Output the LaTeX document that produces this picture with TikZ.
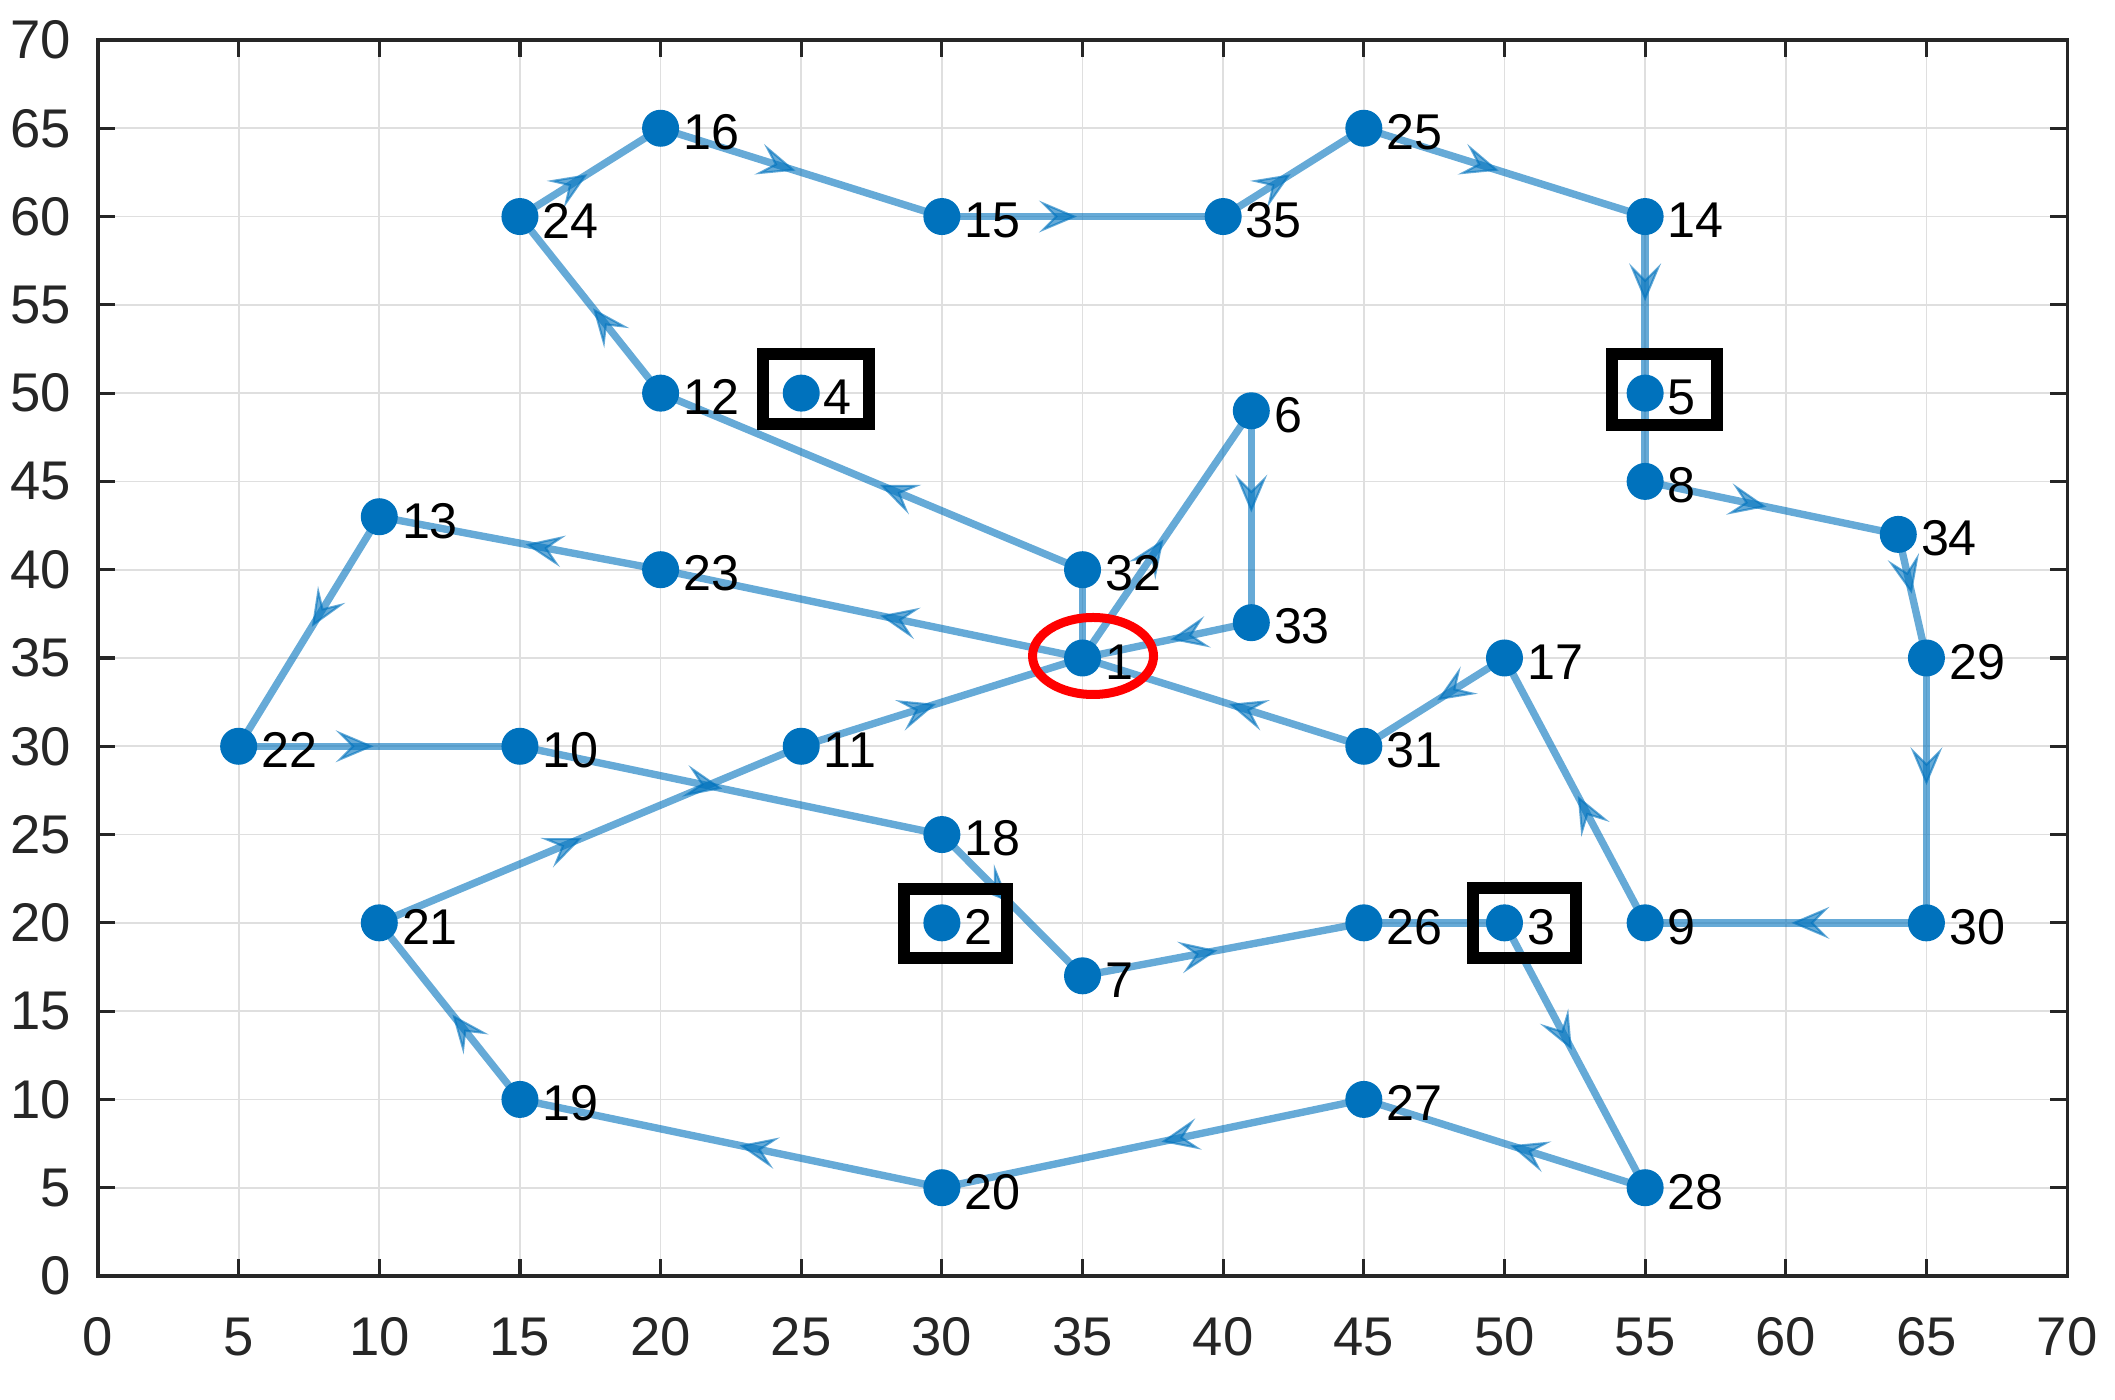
\documentclass[tikz,border=0pt]{standalone}
\usepackage{fontspec}
\setmainfont{Liberation Sans}
\usetikzlibrary{arrows.meta,decorations.markings}
\definecolor{mblue}{RGB}{0,114,189}
\definecolor{axgray}{RGB}{38,38,38}
\definecolor{gridgray}{RGB}{223,223,223}
\pgfdeclarelayer{background}
\pgfsetlayers{background,main}
\tikzset{
  gridline/.style={draw=gridgray, line width=0.5pt},
  axisline/.style={draw=axgray, line width=0.9pt},
  route/.style={draw=mblue, opacity=0.6, line width=2.1pt},
  arrowmid/.style={postaction={decorate}, decoration={markings,
      mark=at position 0.48 with {\arrow{Stealth[length=0.38cm,width=0.32cm,inset=0.16cm,line width=0.6pt]}}}},
  dot/.style={circle, fill=mblue, draw=none, inner sep=0pt, minimum size=0.37cm},
  lbl/.style={anchor=west, inner sep=0pt, text=black, font=\fontsize{14.3}{16}\selectfont},
  ticklbl/.style={inner sep=0pt, text=axgray, font=\fontsize{15.5}{18}\selectfont},
  hbox/.style={draw=black, line width=0.12cm},
  depot/.style={draw=red, line width=0.09cm}
}
\begin{document}
\begin{tikzpicture}
\useasboundingbox (0,0) rectangle (21.15,13.99);
\begin{scope}[shift={(0.98,1.23)}, x=0.28129cm, y=0.17657cm]
  % nodes and labels
  \foreach \n/\x/\y in {1/35/35, 2/30/20, 3/50/20, 4/25/50, 5/55/50, 6/41/49, 7/35/17,
      8/55/45, 9/55/20, 10/15/30, 11/25/30, 12/20/50, 13/10/43, 14/55/60, 15/30/60,
      16/20/65, 17/50/35, 18/30/25, 19/15/10, 20/30/5, 21/10/20, 22/5/30, 23/20/40,
      24/15/60, 25/45/65, 26/45/20, 27/45/10, 28/55/5, 29/65/35, 30/65/20, 31/45/30,
      32/35/40, 33/41/37, 34/64/42, 35/40/60} {
    \node[dot] (n\n) at (\x,\y) {};
    \node[lbl, xshift=0.22cm, yshift=-0.04cm] (l\n) at (\x,\y) {\n};
  }
  \begin{pgfonlayer}{background}
    % grid
    \foreach \v in {5,10,...,65} {
      \draw[gridline] (\v,0) -- (\v,70);
      \draw[gridline] (0,\v) -- (70,\v);
    }
    % routes
    \foreach \a/\b in {32/12, 12/24, 24/16, 16/15, 15/35, 35/25, 25/14, 14/5, 8/34,
        34/29, 29/30, 30/9, 9/17, 17/31, 31/1, 1/6, 6/33, 33/1, 1/23, 23/13, 13/22,
        22/10, 10/18, 18/7, 7/26, 3/28, 28/27, 27/20, 20/19, 19/21, 21/11, 11/1} {
      \draw[route, arrowmid] (n\a.center) -- (n\b.center);
    }
    \foreach \a/\b in {1/32, 5/8, 26/3} {
      \draw[route] (n\a.center) -- (n\b.center);
    }
  \end{pgfonlayer}
  % axes box and ticks
  \draw[axisline] (0,0) rectangle (70,70);
  \foreach \v in {0,5,...,70} {
    \draw[axisline] (0,\v) -- ++(0.17cm,0);
    \draw[axisline] (70,\v) -- ++(-0.17cm,0);
    \draw[axisline] (\v,0) -- ++(0,0.17cm);
    \draw[axisline] (\v,70) -- ++(0,-0.17cm);
    \node[ticklbl, anchor=east, xshift=-0.26cm] (ty\v) at (0,\v) {\v};
    \node[ticklbl, yshift=-0.61cm] (tx\v) at (\v,0) {\v};
  }
  % highlights
  \draw[depot] ([xshift=0.105cm,yshift=0.02cm]n1.center) ellipse [x radius=0.605cm, y radius=0.385cm];
  \draw[hbox] ([shift={(-0.38cm,-0.35cm)}]n2.center) rectangle ([shift={(0.65cm,0.34cm)}]n2.center);
  \draw[hbox] ([shift={(-0.31cm,-0.35cm)}]n3.center) rectangle ([shift={(0.72cm,0.35cm)}]n3.center);
  \draw[hbox] ([shift={(-0.38cm,-0.31cm)}]n4.center) rectangle ([shift={(0.68cm,0.39cm)}]n4.center);
  \draw[hbox] ([shift={(-0.33cm,-0.32cm)}]n5.center) rectangle ([shift={(0.72cm,0.39cm)}]n5.center);
\end{scope}
\end{tikzpicture}
\end{document}
